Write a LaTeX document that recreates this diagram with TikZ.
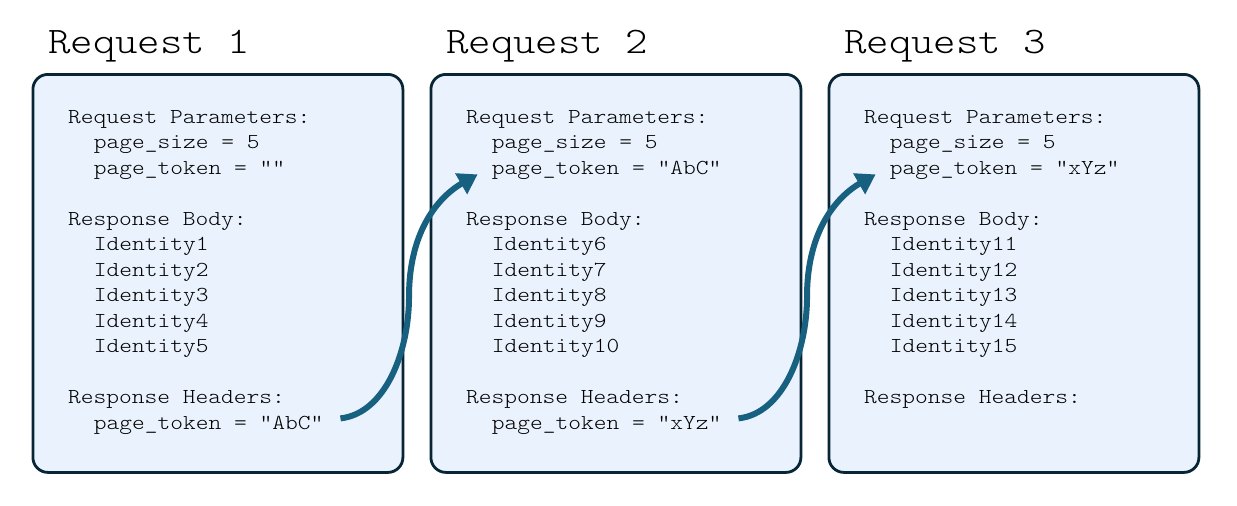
\documentclass[tikz,border=0pt]{standalone}
\usepackage{fontspec}
\usetikzlibrary{arrows.meta,calc}
\newfontfamily\codefont{lmmonolt10-regular.otf}[FakeStretch=1.14]
\definecolor{boxfill}{HTML}{EAF2FE}
\definecolor{boxline}{HTML}{082536}
\definecolor{arrowc}{HTML}{17607F}
\tikzset{
  reqbox/.style={draw=boxline, fill=boxfill, line width=2.8pt, rounded corners=15pt,
    minimum width=370pt, minimum height=398pt, anchor=north west, inner sep=0pt},
  codeline/.style={anchor=base west, inner sep=0pt, text=black,
    font=\codefont\fontsize{21.3}{25.5}\selectfont},
  reqtitle/.style={anchor=base west, inner sep=0pt, text=black,
    font=\codefont\fontsize{37.5}{40}\selectfont},
  linkarrow/.style={draw=arrowc, line width=6pt, -{Triangle[length=19pt,width=23pt]}},
}
\begin{document}
\begin{tikzpicture}[x=1pt,y=-1pt]
\useasboundingbox (0,0) rectangle (1237,506);
\foreach \n/\x in {1/0,2/398,3/796} {
  \node[reqbox] (box\n) at (31.5+\x,73) {};
  \node[reqtitle] (title\n) at (48+\x,53) {Request \n};
}
\foreach \ind/\t [count=\i] in {0/Request Parameters:, 1/page\_size = 5, 1/page\_token = "", 0/{}, 0/Response Body:, 1/Identity1, 1/Identity2, 1/Identity3, 1/Identity4, 1/Identity5, 0/{}, 0/Response Headers:, 1/page\_token = "AbC"}
  \node[codeline] (b1-\i) at (68+25.6*\ind, 97.5+25.5*\i) {\t};
\foreach \ind/\t [count=\i] in {0/Request Parameters:, 1/page\_size = 5, 1/page\_token = "AbC", 0/{}, 0/Response Body:, 1/Identity6, 1/Identity7, 1/Identity8, 1/Identity9, 1/Identity10, 0/{}, 0/Response Headers:, 1/page\_token = "xYz"}
  \node[codeline] (b2-\i) at (466+25.6*\ind, 97.5+25.5*\i) {\t};
\foreach \ind/\t [count=\i] in {0/Request Parameters:, 1/page\_size = 5, 1/page\_token = "xYz", 0/{}, 0/Response Body:, 1/Identity11, 1/Identity12, 1/Identity13, 1/Identity14, 1/Identity15, 0/{}, 0/Response Headers:}
  \node[codeline] (b3-\i) at (864+25.6*\ind, 97.5+25.5*\i) {\t};
% arrows
\foreach \a/\b in {1/2,2/3} {
  \coordinate (s\a) at ($(b\a-13.east)+(17,-6.5)$);
  \coordinate (t\a) at ($(b\b-3.west)+(-14,4.5)$);
  \coordinate (m\a) at ($(s\a)!0.5!(t\a)$);
  \draw[linkarrow] (s\a) .. controls ($(s\a)+(45,-5)$) and ($(m\a)+(0,55)$) .. (m\a)
    .. controls ($(m\a)+(0,-70)$) and ($(t\a)+(-35,20)$) .. (t\a);
}
\end{tikzpicture}
\end{document}
